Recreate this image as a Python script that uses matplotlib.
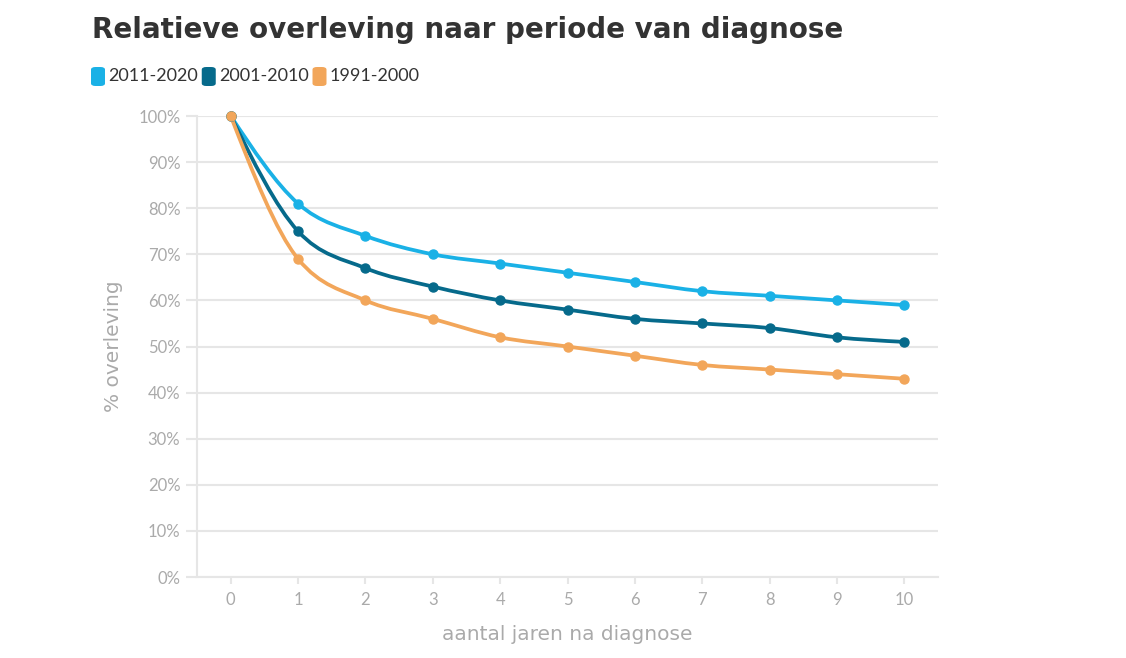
import matplotlib.pyplot as plt
import numpy as np
from matplotlib.path import Path
from matplotlib.patches import PathPatch, FancyBboxPatch

plt.rcParams['font.family'] = ['Lato', 'DejaVu Sans']

jaren = [0, 1, 2, 3, 4, 5, 6, 7, 8, 9, 10]
periodes = ['2011-2020', '2001-2010', '1991-2000']
p2011 = [100, 81, 74, 70, 68, 66, 64, 62, 61, 60, 59]
p2001 = [100, 75, 67, 63, 60, 58, 56, 55, 54, 52, 51]
p1991 = [100, 69, 60, 56, 52, 50, 48, 46, 45, 44, 43]
kleuren = ['#1ab1e6', '#066a8b', '#f2a65a']
yticks = [0, 10, 20, 30, 40, 50, 60, 70, 80, 90, 100]


def monotone_path(x, y):
    # bezier path zoals een monotone-x curve
    x = np.asarray(x, float)
    y = np.asarray(y, float)
    n = len(x)
    h = np.diff(x)
    s = np.diff(y) / h
    t = np.zeros(n)
    for i in range(1, n - 1):
        p = (s[i - 1] * h[i] + s[i] * h[i - 1]) / (h[i - 1] + h[i])
        t[i] = (np.sign(s[i - 1]) + np.sign(s[i])) * min(abs(s[i - 1]), abs(s[i]), 0.5 * abs(p))
    t[0] = (3 * s[0] - t[1]) / 2
    t[-1] = (3 * s[-1] - t[-2]) / 2
    verts = [(x[0], y[0])]
    codes = [Path.MOVETO]
    for i in range(n - 1):
        dx = h[i] / 3
        verts += [(x[i] + dx, y[i] + dx * t[i]), (x[i + 1] - dx, y[i + 1] - dx * t[i + 1]), (x[i + 1], y[i + 1])]
        codes += [Path.CURVE4] * 3
    return Path(verts, codes)


fig = plt.figure(figsize=(11.26, 6.58), dpi=100)
ax = fig.add_axes([0.175, 0.1231, 0.658, 0.7006])

grijs = '#aaaaaa'
lijn = '#e6e6e6'
ax.set_xlim(-0.5, 10.5)
ax.set_ylim(0, 100)
ax.set_yticks(yticks)
ax.set_yticklabels([f'{v}%' for v in yticks])
ax.set_xticks(jaren)
ax.grid(axis='y', color=lijn, linewidth=1.5)
ax.set_axisbelow(True)
for kant in ['top', 'right']:
    ax.spines[kant].set_visible(False)
for kant in ['left', 'bottom']:
    ax.spines[kant].set_color(lijn)
    ax.spines[kant].set_linewidth(1.5)
ax.tick_params(axis='y', colors=lijn, labelcolor=grijs, labelsize=12, length=8, width=1.5, pad=4)
ax.tick_params(axis='x', colors=lijn, labelcolor=grijs, labelsize=12, length=5, width=1.5, pad=6)
ax.set_xlabel('aantal jaren na diagnose', color=grijs, fontsize=14.5, labelpad=12,
              family='DejaVu Sans')
ax.set_ylabel('% overleving', color=grijs, fontsize=14.5, labelpad=11, family='DejaVu Sans')

for reeks, kleur in zip([p2011, p2001, p1991], kleuren):
    ax.add_patch(PathPatch(monotone_path(jaren, reeks), facecolor='none', edgecolor=kleur,
                           linewidth=2.7, capstyle='round', clip_on=False))
    ax.plot(jaren, reeks, 'o', color=kleur, markersize=6.5, clip_on=False)

fig.text(0.082, 0.955, 'Relatieve overleving naar periode van diagnose', fontsize=20,
         fontweight='bold', color='#333333', va='center', family='DejaVu Sans')

lx = 91
for naam, kleur in zip(periodes, kleuren):
    fig.patches.append(FancyBboxPatch((lx / 1126, 1 - 86 / 658), 14 / 1126, 19 / 658,
                                      boxstyle='round,pad=0,rounding_size=0.004',
                                      transform=fig.transFigure, facecolor=kleur, edgecolor='none'))
    t = fig.text((lx + 17) / 1126, 1 - 76 / 658, naam, fontsize=13, color='#333333', va='center')
    fig.canvas.draw()
    bb = t.get_window_extent()
    lx = bb.x1 + 4

fig.savefig('out.png', dpi=100)
